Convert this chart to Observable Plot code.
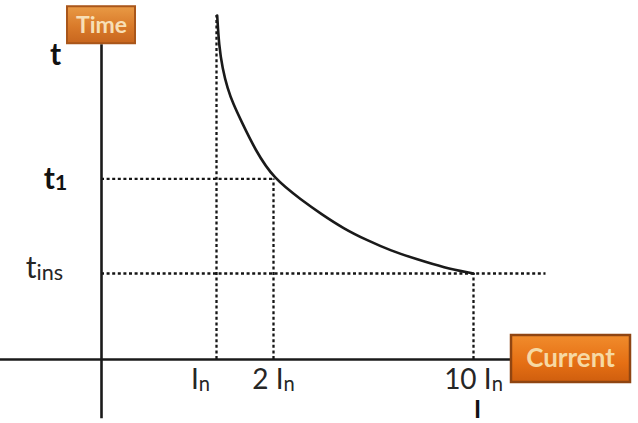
<!DOCTYPE html>
<html><head><meta charset="utf-8">
<script src="https://cdn.jsdelivr.net/npm/d3@7"></script>
<script src="https://cdn.jsdelivr.net/npm/@observablehq/plot@0.6"></script>
<style>
body{margin:0;background:#fff}
#chart svg{display:block;background:#fff}
</style></head><body><div id="chart"></div>
<script>
// Schematic axes: current in multiples of In, time in units of tins
const currentTicks = [1, 2, 10];
const currentTickLabels = ["I_n", "2 I_n", "10 I_n"];
const timeLevels = { t: 3.51, t1: 2.1, tins: 1.0 };
const timeLabels = { t: "t", t1: "t_1", tins: "t_ins" };
const curveTop = 4.0;
const curveCurrent = [1.012, 1.044, 1.105, 1.193, 1.298, 1.421, 1.684, 2.0, 3.148, 3.88, 4.8, 5.76, 6.68, 7.76, 8.8, 10];
const curveTime    = [4.0, 3.651, 3.384, 3.151, 2.965, 2.791, 2.43, 2.105, 1.849, 1.698, 1.523, 1.384, 1.267, 1.163, 1.07, 1.0];
const currentAxisExtent = [-0.88, 11.48];
const timeAxisExtent = [-0.69, 3.66];
const tinsLineEnd = 12.9;
const axisTitles = { x: "Current", y: "Time", xVar: "I" };

const curve = curveCurrent.map((c, i) => ({ c, t: curveTime[i] }));
const [In, twoIn, tenIn] = currentTicks;
const FONT = "Lato, 'Open Sans', sans-serif";
const dotted = { stroke: "#151515", strokeWidth: 2.3, strokeDasharray: "3,2.6" };
const solid = { stroke: "#1a1a1a", strokeWidth: 2.6 };

const chart = Plot.plot({
  width: 638, height: 423,
  margin: 0,
  style: { fontFamily: FONT, background: "#fff" },
  x: { type: "linear", domain: [0, 1, 2, 10], range: [101, 216, 273, 473], axis: null },
  y: { type: "linear", domain: [0, 1], range: [359, 273], axis: null },
  marks: [
    // dotted guides
    Plot.ruleX([In], { y1: 0, y2: curveTop, ...dotted }),
    Plot.ruleX([twoIn], { y1: 0, y2: timeLevels.t1, ...dotted }),
    Plot.ruleX([tenIn], { y1: 0, y2: timeLevels.tins, ...dotted }),
    Plot.ruleY([timeLevels.t1], { x1: 0, x2: twoIn, ...dotted }),
    Plot.ruleY([timeLevels.tins], { x1: 0, x2: tinsLineEnd, ...dotted }),
    // axes
    Plot.ruleY([0], { x1: currentAxisExtent[0], x2: currentAxisExtent[1], ...solid }),
    Plot.ruleX([0], { y1: timeAxisExtent[0], y2: timeAxisExtent[1], ...solid }),
    // curve
    Plot.line(curve, { x: "c", y: "t", curve: "basis", stroke: "#1a1a1a", strokeWidth: 2.6 }),
    // tick labels
    Plot.text([In], { x: d => d, y: 0, text: () => currentTickLabels[0], dx: -16, dy: 21, fontSize: 28, fill: "#262626" }),
    Plot.text(currentTicks.slice(1), { x: d => d, y: 0, text: (d, i) => currentTickLabels[i + 1], dy: 21, fontSize: 28, fill: "#262626" }),
    Plot.text([axisTitles.xVar], { x: tenIn, y: 0, dx: 4, dy: 51, fontSize: 24, fontWeight: "bold", fill: "#111" }),
    // time labels
    Plot.text([timeLevels.t], { x: 0, y: d => d, text: () => timeLabels.t, dx: -46, dy: -2, fontSize: 30, fontWeight: "bold", fill: "#111" }),
    Plot.text([timeLevels.t1], { x: 0, y: d => d, text: () => timeLabels.t1, dx: -46, dy: 0, fontSize: 30, fontWeight: "bold", fill: "#111" }),
    Plot.text([timeLevels.tins], { x: 0, y: d => d, text: () => timeLabels.tins, dx: -57, dy: -5, fontSize: 30, fill: "#262626" }),
    // axis title boxes
    Plot.rect([0], { x1: 0, x2: 0, y1: timeAxisExtent[1], y2: timeAxisExtent[1], insetLeft: -34, insetRight: -34, insetTop: -38, insetBottom: 1, fill: "url(#gTime)", stroke: "#a9561a", strokeWidth: 2 }),
    Plot.text([axisTitles.y], { x: 0, y: timeAxisExtent[1], dx: 0, dy: -19, fontSize: 23, fontWeight: "bold", fill: "#f7dfb6" }),
    Plot.rect([0], { x1: currentAxisExtent[1], x2: currentAxisExtent[1], y1: 0, y2: 0, insetLeft: 1, insetRight: -120, insetTop: -24, insetBottom: -23, fill: "url(#gCur)", stroke: "#8f4512", strokeWidth: 2.5 }),
    Plot.text([axisTitles.x], { x: currentAxisExtent[1], y: 0, dx: 60, dy: -1, fontSize: 26, fontWeight: "bold", fill: "#f6d9a4" })
  ]
});

// gradients for the title boxes
const svg = d3.select(chart);
const defs = svg.insert("defs", ":first-child");
const g1 = defs.append("linearGradient").attr("id", "gTime").attr("x1", 0).attr("y1", 0).attr("x2", 0).attr("y2", 1);
g1.append("stop").attr("offset", "0%").attr("stop-color", "#e99a45");
g1.append("stop").attr("offset", "55%").attr("stop-color", "#d97a2a");
g1.append("stop").attr("offset", "100%").attr("stop-color", "#c8661e");
const g2 = defs.append("linearGradient").attr("id", "gCur").attr("x1", 0).attr("y1", 0).attr("x2", 0).attr("y2", 1);
g2.append("stop").attr("offset", "0%").attr("stop-color", "#f18c2c");
g2.append("stop").attr("offset", "60%").attr("stop-color", "#e56f14");
g2.append("stop").attr("offset", "100%").attr("stop-color", "#cf5e0e");

// subscripts: text after "_" drawn smaller
svg.selectAll("text").each(function () {
  const s = this.textContent;
  if (!s.includes("_")) return;
  const [a, b] = s.split("_");
  this.textContent = "";
  const t = d3.select(this);
  t.append("tspan").text(a);
  t.append("tspan").attr("font-size", "0.72em").attr("dy", "0.08em").text(b);
});

document.getElementById("chart").append(chart);
</script>
</body></html>
